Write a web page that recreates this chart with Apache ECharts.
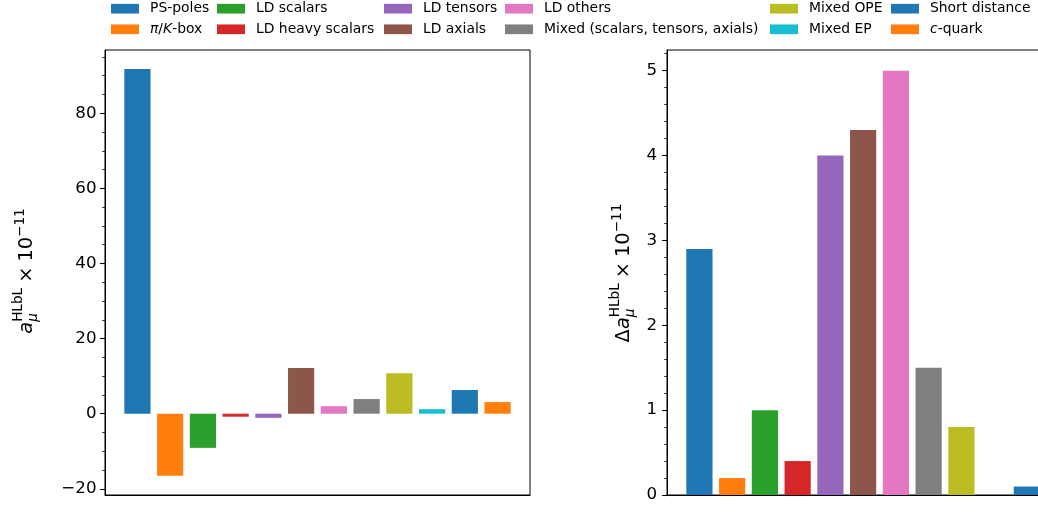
<!DOCTYPE html>
<html><head><meta charset="utf-8">
<script src="https://cdn.jsdelivr.net/npm/echarts@6/dist/echarts.min.js"></script>
<style>html,body{margin:0;padding:0;background:#fff}#c{width:1038px;height:512px}</style>
</head><body><div id="c"></div>
<script>
// ---- data ----
const categories = ['PS-poles', 'π/K-box', 'LD scalars', 'LD heavy scalars', 'LD tensors', 'LD axials',
  'LD others', 'Mixed (scalars, tensors, axials)', 'Mixed OPE', 'Mixed EP', 'Short distance', 'c-quark'];
const colors = ['#1f77b4', '#ff7f0e', '#2ca02c', '#d62728', '#9467bd', '#8c564b',
  '#e377c2', '#7f7f7f', '#bcbd22', '#17becf', '#1f77b4', '#ff7f0e'];
const values = [91.8, -16.5, -9.1, -0.8, -1.1, 12.2, 2.0, 3.9, 10.8, 1.2, 6.3, 3.1];
// c-quark uncertainty bar lies outside the visible picture
const uncertainties = [2.9, 0.2, 1.0, 0.4, 4.0, 4.3, 5.0, 1.5, 0.8, 0, 0.1, null];
const leftMajorTicks = [-20, 0, 20, 40, 60, 80];
const leftMinorTicks = [-20, -15, -10, -5, 0, 5, 10, 15, 20, 25, 30, 35, 40, 45, 50, 55, 60, 65, 70, 75, 80, 85, 90, 95];
const rightMajorTicks = [0, 1, 2, 3, 4, 5];
const rightMinorTicks = [0, 0.2, 0.4, 0.6, 0.8, 1, 1.2, 1.4, 1.6, 1.8, 2, 2.2, 2.4, 2.6, 2.8, 3, 3.2, 3.4, 3.6, 3.8, 4, 4.2, 4.4, 4.6, 4.8, 5, 5.2];
const legendColumns = [
  ['PS-poles', 'π/K-box'],
  ['LD scalars', 'LD heavy scalars'],
  ['LD tensors', 'LD axials'],
  ['LD others', 'Mixed (scalars, tensors, axials)'],
  ['Mixed OPE', 'Mixed EP'],
  ['Short distance', 'c-quark']
];

// ---- layout ----
const FONT = '"DejaVu Sans", "Liberation Sans", sans-serif';
const TICK_FS = 16.7, LEG_FS = 13.9;
const G1 = {left: 105, top: 50, width: 425, height: 445};
const G2 = {left: 667, top: 50, width: 425, height: 445};
const X_MIN = -0.99, X_MAX = 11.99;
const pxPerUnit = G1.width / (X_MAX - X_MIN);
const BAR_W = 0.8 * pxPerUnit;

const fmt = v => (v < 0 ? '\u2212' + Math.abs(v) : String(v));

function yAxes(gridIndex, min, max, major, minor, margin) {
  return [{
    type: 'value', gridIndex, min, max, position: 'left', z: 10,
    axisLine: {show: true, onZero: false, lineStyle: {color: '#000', width: 1}},
    axisTick: {show: true, customValues: major, length: 4.9, lineStyle: {color: '#000', width: 1.1}},
    axisLabel: {show: true, customValues: major, margin, color: '#000', fontSize: TICK_FS, fontFamily: FONT, formatter: fmt},
    splitLine: {show: false}
  }, {
    type: 'value', gridIndex, min, max, position: 'left', z: 10,
    axisLine: {show: false, onZero: false},
    axisTick: {show: true, customValues: minor, length: 2.8, lineStyle: {color: '#000', width: 0.8}},
    axisLabel: {show: false},
    splitLine: {show: false}
  }];
}
function xAxis(gridIndex) {
  return {
    type: 'value', gridIndex, min: X_MIN, max: X_MAX, position: 'bottom', z: 10,
    axisLine: {show: true, onZero: false, lineStyle: {color: '#000', width: 1}},
    axisTick: {show: false}, axisLabel: {show: false}, splitLine: {show: false}
  };
}

const series = [];
categories.forEach((name, i) => {
  series.push({
    type: 'bar', name, xAxisIndex: 0, yAxisIndex: 0, data: [[i, values[i]]],
    barWidth: BAR_W, barGap: '-100%', itemStyle: {color: colors[i]}, silent: true
  });
});
categories.forEach((name, i) => {
  series.push({
    type: 'bar', name, xAxisIndex: 1, yAxisIndex: 2, data: [[i, uncertainties[i]]],
    barWidth: BAR_W, barGap: '-100%', itemStyle: {color: colors[i]}, silent: true
  });
});

const legendLeft = [111, 217, 384, 505, 770, 891];
const legends = legendColumns.map((col, k) => ({
  orient: 'vertical', left: legendLeft[k], top: 0.7, padding: 0,
  data: col, icon: 'rect', itemWidth: 28, itemHeight: 9.7, itemGap: 4.6,
  selectedMode: false,
  formatter: n => n === 'π/K-box' ? '{i|π}/{i|K}-box' : (n === 'c-quark' ? '{i|c}-quark' : n),
  textStyle: {
    color: '#000', fontSize: LEG_FS, fontFamily: FONT, lineHeight: 16, padding: [0, 0, 0, 6],
    rich: {i: {fontStyle: 'italic', fontSize: LEG_FS, fontFamily: FONT, color: '#000'}}
  }
}));

// ---- axis titles (rotated, with stacked super/subscripts) ----
const mctx = document.createElement('canvas').getContext('2d');
function w(t, font) { mctx.font = font; return mctx.measureText(t).width; }
function title(prefix, xBase, yCenter) {
  const FS = 19.4, SFS = 13.6;
  const up = FS + 'px ' + FONT, it = 'italic ' + FS + 'px ' + FONT;
  const sup = SFS + 'px ' + FONT, sit = 'italic ' + SFS + 'px ' + FONT;
  const parts = [];
  let x = 0;
  const add = (t, font, fs, dy, adv) => {
    parts.push({t, font, fs, x, dy});
    if (adv) x += w(t, font);
  };
  if (prefix) add(prefix, up, FS, 0, true);
  add('a', it, FS, 0, true);
  const x0 = x;
  add('HLbL', sup, SFS, -10, false);
  add('\u03bc', sit, SFS, 4.5, false);
  x = x0 + Math.max(w('HLbL', sup), w('\u03bc', sit));
  x += 5;
  add('\u00d7', up, FS, 0, true);
  x += 5;
  add('10', up, FS, 0, true);
  add('\u221211', sup, SFS, -8.5, true);
  const L = x;
  return {
    type: 'group', x: xBase, y: yCenter + L / 2, rotation: Math.PI / 2, silent: true,
    children: parts.map(p => ({
      type: 'text', x: p.x, y: p.dy - 0.3 * p.fs,
      style: {text: p.t, font: p.font, fill: '#000', align: 'left', verticalAlign: 'middle'}
    }))
  };
}

const gridBase = {show: true, borderColor: '#000', borderWidth: 1, backgroundColor: 'transparent', outerBoundsMode: 'none', containLabel: false};
const option = {
  animation: false,
  backgroundColor: '#fff',
  grid: [Object.assign({}, gridBase, G1), Object.assign({}, gridBase, G2)],
  xAxis: [xAxis(0), xAxis(1)],
  yAxis: [...yAxes(0, -21.65, 96.85, leftMajorTicks, leftMinorTicks, 8.5), ...yAxes(1, 0, 5.244, rightMajorTicks, rightMinorTicks, 10)],
  legend: legends,
  series,
  graphic: [title('', 33, 271), title('\u0394', 630, 273)]
};
const chart = echarts.init(document.getElementById('c'), null, {renderer: 'canvas'});
chart.setOption(option);
</script>
</body></html>
